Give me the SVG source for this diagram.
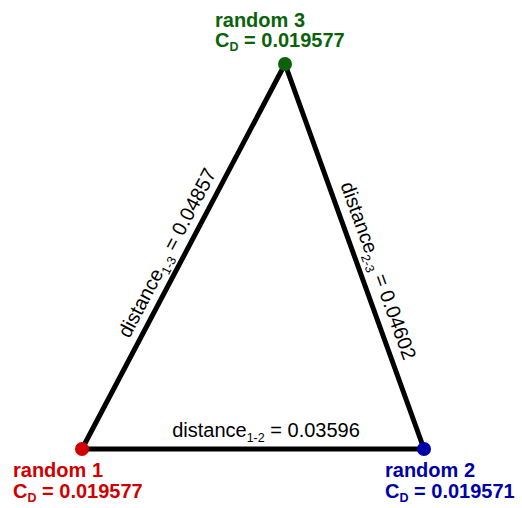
<svg xmlns="http://www.w3.org/2000/svg" width="522" height="508" viewBox="0 0 522 508">
<style>
.edge{stroke:#000;stroke-width:5;fill:none;stroke-linecap:round}
.elab{font-family:"Liberation Sans",Arial,sans-serif;font-size:20px;fill:#000}
.nlab{font-family:"Liberation Sans",Arial,sans-serif;font-size:20px;font-weight:bold}
.sub{font-size:12.5px}
</style>
<rect width="522" height="508" fill="#fff"/>
<g id="connectors">
<line class="edge" x1="82" y1="449" x2="285" y2="64"/>
<line class="edge" x1="285" y1="64" x2="424" y2="449"/>
<line class="edge" x1="82" y1="449" x2="424" y2="449"/>
<text class="elab" text-anchor="middle" transform="translate(173,256) rotate(-62.2)">distance<tspan class="sub" dy="5">1-3</tspan><tspan dy="-5"> = 0.04857</tspan></text>
<text class="elab" text-anchor="middle" transform="translate(372,273) rotate(70.16)">distance<tspan class="sub" dy="5">2-3</tspan><tspan dy="-5"> = 0.04602</tspan></text>
<text class="elab" text-anchor="middle" x="266" y="437">distance<tspan class="sub" dy="5">1-2</tspan><tspan dy="-5"> = 0.03596</tspan></text>
</g>
<g id="random1">
<circle cx="82" cy="449" r="7" fill="#d00000"/>
<text class="nlab" fill="#d00000" x="13" y="477">random 1</text>
<text class="nlab" fill="#d00000" x="13" y="498">C<tspan class="sub" dy="4">D</tspan><tspan dy="-4"> = 0.019577</tspan></text>
</g>
<g id="random2">
<circle cx="424" cy="449" r="7" fill="#0000aa"/>
<text class="nlab" fill="#0000aa" x="385" y="477">random 2</text>
<text class="nlab" fill="#0000aa" x="385" y="498">C<tspan class="sub" dy="4">D</tspan><tspan dy="-4"> = 0.019571</tspan></text>
</g>
<g id="random3">
<circle cx="285" cy="64" r="7" fill="#0a620a"/>
<text class="nlab" fill="#0a620a" x="215" y="27">random 3</text>
<text class="nlab" fill="#0a620a" x="215" y="47">C<tspan class="sub" dy="4">D</tspan><tspan dy="-4"> = 0.019577</tspan></text>
</g>
</svg>
